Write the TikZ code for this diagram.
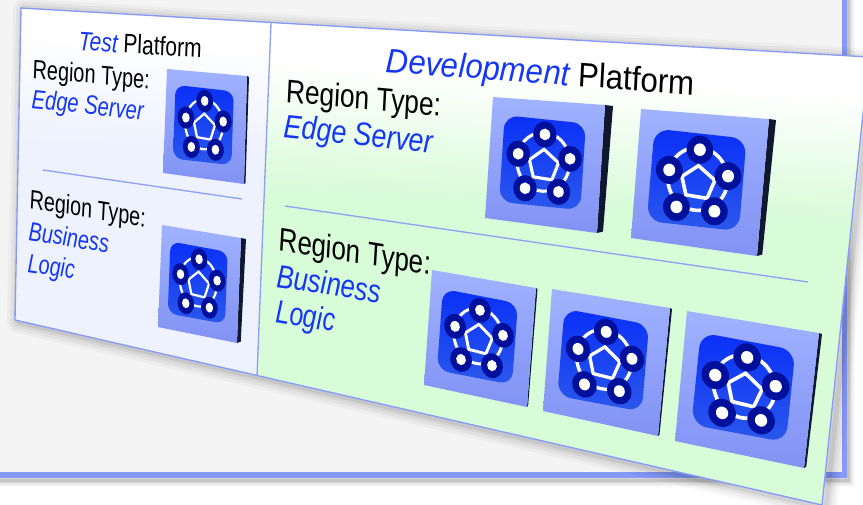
\documentclass[tikz,border=0pt]{standalone}
\usepackage{fontspec}
\setmainfont{Liberation Sans}
\definecolor{framecol}{HTML}{8799FB}
\definecolor{panelgray}{HTML}{F4F4F4}
\definecolor{linecol}{HTML}{8FA0F5}
\definecolor{testend}{HTML}{EEF2FF}
\definecolor{devend}{HTML}{D8FBD8}
\definecolor{facetop}{HTML}{A0B2FF}
\definecolor{facebot}{HTML}{8192F4}
\definecolor{sidecol}{HTML}{101830}
\definecolor{icontop}{HTML}{0A30F8}
\definecolor{iconbot}{HTML}{2A58EC}
\definecolor{navy}{HTML}{00109A}
\definecolor{bluetxt}{HTML}{1436F8}
\newlength\fitlen
\newcommand\fittxt[8]{%
 \pgfinterruptpicture\settowidth\fitlen{#8}\global\fitlen=\fitlen\endpgfinterruptpicture
 \pgfmathsetmacro\fa{(#4-#2)*0.75/\fitlen}%
 \pgfmathsetmacro\fb{-(#5-#3)*0.75/\fitlen}%
 \pgfmathsetmacro\fc{#7*#6}%
 \node (#1) [anchor=base west,inner sep=0pt,cm={\fa,\fb,\fc,#6,(0,0)}] at (#2,#3) {#8};%
}
\newcommand\netIcon[9]{%
 \pgfmathsetmacro\cxx{(#1+#3+#5+#7)/4}%
 \pgfmathsetmacro\cyy{(#2+#4+#6+#8)/4}%
 \pgfmathsetmacro\ux{((#3-#1)+(#7-#5))/2*0.75}%
 \pgfmathsetmacro\uy{-((#4-#2)+(#8-#6))/2*0.75}%
 \pgfmathsetmacro\vx{((#5-#1)+(#7-#3))/2*0.75}%
 \pgfmathsetmacro\vy{-((#6-#2)+(#8-#4))/2*0.75}%
 \pgfmathsetmacro\lwa{0.028*\ux}%
 \pgfmathsetmacro\rcc{0.12*\ux}%
 \fill[sidecol] (#3,#4) -- ({#3+#9},{#4+1}) -- ({#7+0.75*#9},{#8-1.5}) -- (#7,#8) -- cycle;
 \shade[top color=facetop,bottom color=facebot] (#1,#2) -- (#3,#4) -- (#7,#8) -- (#5,#6) -- cycle;
 \begin{scope}[shift={(\cxx,\cyy)},x={(\ux pt,\uy pt)},y={(\vx pt,\vy pt)}]
  \shade[top color=icontop,bottom color=iconbot,rounded corners=\rcc pt] (-.385,-.35) -- (.34,-.35) -- (.34,.345) -- (-.385,.345) -- cycle;
  \foreach \k in {0,...,4}{
   \pgfmathsetmacro\sa{-90+72*\k+15}
   \pgfmathsetmacro\sb{-90+72*\k+57}
   \draw[white,line width=\lwa pt,domain=\sa:\sb,samples=8,smooth] plot ({-.015+.235*cos(\x)},{-.01+.235*sin(\x)});
  }
  \draw[white,line width=\lwa pt,line join=miter] (-.017,-.11) -- (.12,-.014) -- (.07,.127) -- (-.097,.118) -- (-.14,-.016) -- cycle;
  \foreach \px/\py in {-.017/-.23,.22/-.056,.136/.217,-.163/.216,-.243/-.054}{
   \fill[navy] (\px,\py) circle[radius=.105];
   \fill[white] (\px,\py) circle[radius=.047];
  }
 \end{scope}
}
\begin{document}
\begin{tikzpicture}[x=0.75pt,y=-0.75pt]
\useasboundingbox (0,0) rectangle (863,504);
\clip (0,0) rectangle (863,504);
% frame shadow
\foreach \w/\o in {14/.03,10/.05,6/.07,3/.09}{
 \draw[black,opacity=\o,line width=\w*0.75pt] (-10,480) -- (848,480) -- (848,-10);
}
% panel
\fill[panelgray] (-10,-10) rectangle (845,475);
\draw[framecol,line width=4pt] (-10,475) -- (844.5,475) -- (844.5,-10);
% card shadow
\foreach \w/\o in {22/.03,16/.04,10/.05,5/.07}{
 \draw[black,opacity=\o,line width=\w*0.75pt,line join=round] (24,10) -- (873,60) -- (826,508) -- (18,322) -- cycle;
}
% test panel
\coordinate (cardTL) at (21,8);
\coordinate (cardTR) at (869,57);
\coordinate (cardBR) at (822,505);
\coordinate (cardBL) at (15,320);
\coordinate (splitT) at (271,23);
\coordinate (splitB) at (257,376);
\fill[testend] (cardTL) -- (splitT) -- (splitB) -- (cardBL) -- cycle;
\begin{scope}
 \clip (cardTL) -- (splitT) -- (splitB) -- (cardBL) -- cycle;
 \begin{scope}[transform canvas={rotate around={-3.3:(21,8)}}]
  \shade[top color=white,bottom color=testend] (0,30) rectangle (300,140);
  \fill[white] (0,-10) rectangle (300,30.2);
 \end{scope}
\end{scope}
\fill[devend] (splitT) -- (cardTR) -- (cardBR) -- (splitB) -- cycle;
\begin{scope}
 \clip (splitT) -- (cardTR) -- (cardBR) -- (splitB) -- cycle;
 \begin{scope}[transform canvas={rotate around={-3.3:(271,23)}}]
  \shade[top color=white,bottom color=devend] (200,60) rectangle (920,190);
  \fill[white] (200,0) rectangle (920,60.2);
 \end{scope}
\end{scope}
\draw[framecol,line width=1pt,line join=round] (cardTL) -- (cardTR) -- (cardBR) -- (cardBL) -- cycle;
\draw[linecol,line width=1pt] (splitT) -- (splitB);
% dividers
\coordinate (d1a) at (43,170);
\coordinate (d1b) at (242,199);
\coordinate (d2a) at (285,206);
\coordinate (d2b) at (808,282);
\draw[linecol,line width=1pt] (d1a) -- (d1b);
\draw[linecol,line width=1pt] (d2a) -- (d2b);
% icons
\netIcon{167}{69}{247}{76}{163}{173}{244}{184}{2}
\netIcon{162}{225}{241}{238}{158}{327}{237}{343}{5}
\netIcon{493}{97}{605}{105}{485}{218}{597}{233}{8}
\netIcon{641}{109}{769}{119}{631}{238}{757}{256}{7}
\netIcon{432}{270}{536}{288}{424}{385}{527}{407}{1.5}
\netIcon{552}{289}{670}{308}{543}{411}{658}{436}{2}
\netIcon{687}{311}{819}{333}{675}{441}{804}{468}{3}
% text
\fittxt{t1}{78}{50}{201}{58}{2.0}{.04}{\textit{\color{bluetxt}Test} Platform}
\fittxt{t2}{32}{78}{149}{89}{2.0}{.04}{Region Type:}
\fittxt{t3}{31}{108}{143}{120}{2.0}{.04}{\textit{\color{bluetxt}Edge Server}}
\fittxt{t4}{29}{208}{145}{227}{2.0}{.05}{Region Type:}
\fittxt{t5}{28}{240}{108}{253}{2.0}{.05}{\textit{\color{bluetxt}Business}}
\fittxt{t6}{27}{272}{74}{279}{2.0}{.05}{\textit{\color{bluetxt}Logic}}
\fittxt{d1}{385}{72}{693}{95}{2.55}{.05}{\textit{\color{bluetxt}Development} Platform}
\fittxt{d2}{285}{102}{440}{116}{2.45}{.05}{Region Type:}
\fittxt{d3}{283}{137}{432}{153}{2.45}{.05}{\textit{\color{bluetxt}Edge Server}}
\fittxt{d4}{278}{250}{430}{275}{2.45}{.06}{Region Type:}
\fittxt{d5}{276}{287}{380}{303}{2.45}{.06}{\textit{\color{bluetxt}Business}}
\fittxt{d6}{275}{322}{334}{332}{2.45}{.06}{\textit{\color{bluetxt}Logic}}
\end{tikzpicture}
\end{document}
